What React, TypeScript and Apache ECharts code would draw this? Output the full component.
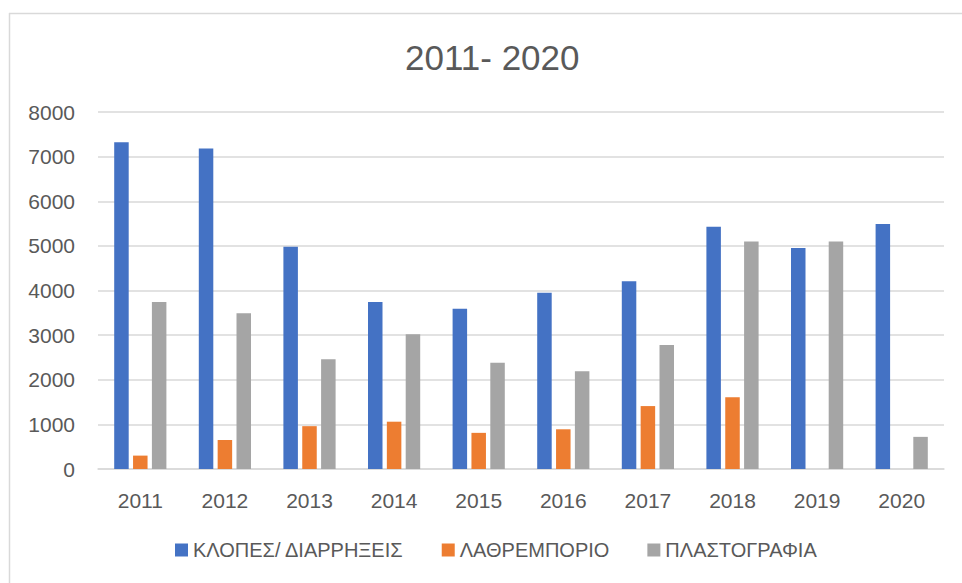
import React, { useEffect, useRef } from "react";
import * as echarts from "echarts";

const categories = ["2011", "2012", "2013", "2014", "2015", "2016", "2017", "2018", "2019", "2020"];
const seriesNames = ["ΚΛΟΠΕΣ/ ΔΙΑΡΡΗΞΕΙΣ", "ΛΑΘΡΕΜΠΟΡΙΟ", "ΠΛΑΣΤΟΓΡΑΦΙΑ"];
const theftValues = [7320, 7180, 4980, 3740, 3590, 3950, 4210, 5430, 4950, 5490];
const smugglingValues = [300, 650, 960, 1060, 810, 890, 1410, 1610, 0, 0];
const forgeryValues = [3740, 3490, 2460, 3020, 2380, 2190, 2780, 5100, 5100, 720];
const colors = ["#4472C4", "#ED7D31", "#A5A5A5"];
const titleText = "2011- 2020";

const FONT = "'Liberation Sans', Arial, sans-serif";

export default function App() {
  const ref = useRef<HTMLDivElement>(null);
  useEffect(() => {
    if (!ref.current) return;
    const chart = echarts.init(ref.current, undefined, { renderer: "svg" });
    const values = [theftValues, smugglingValues, forgeryValues];
    chart.setOption({
      animation: false,
      backgroundColor: "#ffffff",
      color: colors,
      title: {
        text: titleText,
        left: 400,
        top: 35,
        textStyle: { fontFamily: FONT, fontSize: 35, fontWeight: "normal", color: "#595959" },
      },
      legend: {
        bottom: 18,
        left: 170,
        itemWidth: 13,
        itemHeight: 13,
        itemGap: 38,
        icon: "rect",
        textStyle: { fontFamily: FONT, fontSize: 20, color: "#595959" },
        data: seriesNames,
      },
      grid: { left: 98, right: 18, top: 112, bottom: 114, containLabel: false },
      xAxis: {
        type: "category",
        data: categories,
        axisLine: { lineStyle: { color: "#D9D9D9", width: 1.5 } },
        axisTick: { show: false },
        axisLabel: { fontFamily: FONT, fontSize: 21, color: "#595959", margin: 21 },
      },
      yAxis: {
        type: "value",
        min: 0,
        max: 8000,
        interval: 1000,
        axisLine: { show: false },
        axisTick: { show: false },
        axisLabel: {
          fontFamily: FONT,
          fontSize: 21,
          color: "#595959",
          margin: 23,
          formatter: (v: number) => String(v),
        },
        splitLine: { lineStyle: { color: "#D9D9D9", width: 1.5 } },
      },
      series: seriesNames.map((name, i) => ({
        name,
        type: "bar",
        data: values[i],
        barWidth: 14.5,
        barGap: "30%",
        itemStyle: { color: colors[i] },
      })),
      graphic: [
        { type: "line", shape: { x1: 9, y1: 13.5, x2: 962, y2: 13.5 }, style: { stroke: "#D9D9D9", lineWidth: 1.5 } },
        { type: "line", shape: { x1: 9.5, y1: 13, x2: 9.5, y2: 583 }, style: { stroke: "#D9D9D9", lineWidth: 1.5 } },
      ],
    });
    return () => chart.dispose();
  }, []);
  return (
    <div
      ref={ref}
      style={{ position: "fixed", left: 0, top: 0, width: 962, height: 583 }}
    />
  );
}
